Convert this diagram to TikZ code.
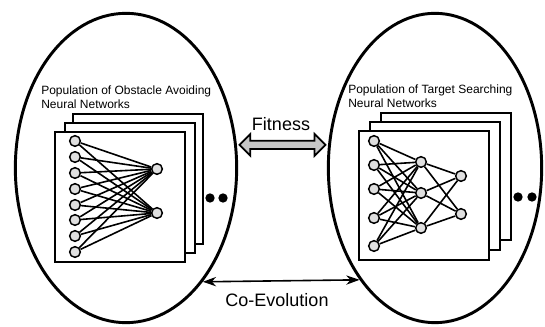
\documentclass[tikz,border=0pt]{standalone}
\usepackage{fontspec}
\setmainfont{Liberation Sans}
\usetikzlibrary{shapes.geometric,shapes.arrows,arrows.meta,calc}

\begin{document}
\begin{tikzpicture}[x=0.75pt,y=0.75pt,yscale=-1,xscale=1,
        pop/.style={ellipse,draw,line width=2.2pt,inner sep=0pt,minimum height=232pt},
        sheet/.style={draw,line width=1.1pt,fill=white},
        neuron/.style={circle,draw,line width=1.1pt,fill=gray!25,minimum size=8pt,inner sep=0pt},
        link/.style={line width=1.2pt},
        dot/.style={circle,fill=black,minimum size=7pt,inner sep=0pt},
        poplabel/.style={anchor=north west,inner sep=0.75pt,align=left,font=\fontsize{9}{10.5}\selectfont},
        bigtext/.style={inner sep=0.75pt,font=\fontsize{13.5}{16}\selectfont}]
        \useasboundingbox (0,0) rectangle (545,327);
        
        %Shape: Ellipse [left population]
        \node[pop,minimum width=166pt] (lpop) at (126,168) {};
        %Shape: Ellipse [right population]
        \node[pop,minimum width=160pt] (rpop) at (435,168) {};
        
        %Shape: Rectangle [left stack]
        \draw[sheet] (73,114) rectangle (203,244);
        \draw[sheet] (65,123) rectangle (195,253);
        \draw[sheet] (55,132) rectangle (185,262);
        %Shape: Rectangle [right stack]
        \draw[sheet] (381,113) rectangle (511,240);
        \draw[sheet] (370,122) rectangle (500,250);
        \draw[sheet] (359,131) rectangle (489,260);
        
        % Left network: 8 inputs, 2 outputs
        \foreach \y [count=\i] in {141,157,173,189,205,220,236,252}
            \node[neuron] (lin\i) at (75,\y) {};
        \node[neuron] (lout1) at (157,169) {};
        \node[neuron] (lout2) at (157,213) {};
        \foreach \i in {1,...,8}
            \foreach \j in {1,2}
                \draw[link] (lin\i) -- (lout\j);
        
        % Right network: 5 inputs, 3 hidden, 2 outputs
        \foreach \y [count=\i] in {141,165,189,218,246}
            \node[neuron] (rin\i) at (374,\y) {};
        \foreach \y [count=\i] in {162,193,228}
            \node[neuron] (rhid\i) at (421,\y) {};
        \node[neuron] (rout1) at (461,176) {};
        \node[neuron] (rout2) at (461,214) {};
        \foreach \i in {1,...,5}
            \foreach \j in {1,2,3}
                \draw[link] (rin\i) -- (rhid\j);
        \foreach \i in {1,2,3}
            \foreach \j in {1,2}
                \draw[link] (rhid\i) -- (rout\j);
        
        % Dots
        \node[dot] (ldot1) at (210,198) {};
        \node[dot] (ldot2) at (223,198) {};
        \node[dot] (rdot1) at (518,197) {};
        \node[dot] (rdot2) at (532,197) {};
        
        % Text Node
        \node[poplabel] (ltext) at (40,85) {Population of Obstacle Avoiding\\Neural Networks};
        % Text Node
        \node[poplabel] (rtext) at (347,84) {Population of Target Searching\\Neural Networks};
        
        % Fitness arrow
        \node[double arrow,draw,line width=1.3pt,fill=gray!45,inner sep=2.5pt,
              minimum height=64.5pt,minimum width=15pt,double arrow head extend=5pt]
              (fitarrow) at ($(lpop.12)!0.5!(rpop.168)$) {};
        \node[bigtext] (fittext) at (281,124) {Fitness};
        
        % Co-Evolution arrow
        \draw[{Stealth[length=10pt,width=7pt]}-{Stealth[length=10pt,width=7pt]},line width=1.2pt] (lpop.-56) -- (rpop.236);
        \node[bigtext] (coevo) at (277,300) {Co-Evolution};
        
\end{tikzpicture}
\end{document}
